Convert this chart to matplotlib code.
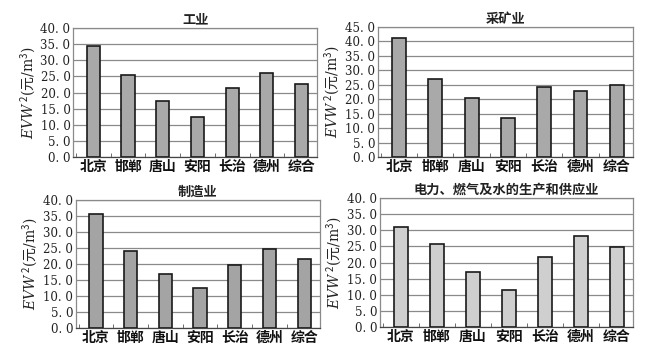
import matplotlib.pyplot as plt
from matplotlib.ticker import FixedLocator

plt.rcParams['font.family'] = ['DejaVu Serif', 'Noto Sans CJK SC']
plt.rcParams['mathtext.fontset'] = 'custom'
plt.rcParams['mathtext.rm'] = 'Noto Sans CJK SC'
plt.rcParams['mathtext.it'] = 'DejaVu Serif:italic'

cities = ['北京', '邯郸', '唐山', '安阳', '长治', '德州', '综合']

gongye = [34.5, 25.3, 17.4, 12.4, 21.3, 26.1, 22.8]
caikuang = [41.2, 26.9, 20.4, 13.6, 24.3, 22.7, 25.0]
zhizao = [35.6, 24.1, 16.8, 12.6, 19.6, 24.7, 21.6]
dianli = [31.1, 25.7, 17.0, 11.5, 21.8, 28.2, 24.7]

panels = [
    ('工业', gongye, 40, '#a9a9a9', [0.112, 0.551, 0.373, 0.369]),
    ('采矿业', caikuang, 45, '#a9a9a9', [0.578, 0.551, 0.390, 0.372]),
    ('制造业', zhizao, 40, '#a4a4a4', [0.116, 0.063, 0.373, 0.366]),
    ('电力、燃气及水的生产和供应业', dianli, 40, '#cfcfcf', [0.581, 0.066, 0.387, 0.368]),
]

fig = plt.figure(figsize=(6.54, 3.5), dpi=100)

for title, vals, ymax, color, rect in panels:
    ax = fig.add_axes(rect)
    x = range(len(cities))
    ax.bar(x, vals, width=0.38, color=color, edgecolor='#1a1a1a', linewidth=1.2, zorder=3)
    ax.set_ylim(0, ymax)
    ax.set_xlim(-0.58, 6.45)
    yt = list(range(0, ymax + 1, 5))
    ax.set_yticks(yt)
    ax.set_yticklabels(['%d. 0' % v for v in yt], fontsize=8.5, color='#222222')
    ax.set_xticks(list(x))
    ax.set_xticklabels(cities, family=['Noto Sans CJK SC'], fontsize=10,
                       fontweight='bold', color='#111111')
    ax.xaxis.set_minor_locator(FixedLocator([i + 0.5 for i in range(-1, 7)]))
    ax.tick_params(axis='x', which='major', length=0, pad=2)
    ax.tick_params(axis='x', which='minor', length=3, direction='in', color='#555555')
    ax.tick_params(axis='y', length=0, pad=2)
    ax.yaxis.grid(True, color='#8a8a8a', linewidth=0.9, zorder=0)
    for s in ax.spines.values():
        s.set_color('#8a8a8a')
        s.set_linewidth(0.9)
    ax.spines['bottom'].set_color('#444444')
    ax.set_title(title, family=['Noto Sans CJK SC'], fontsize=9.5, fontweight='bold',
                 color='#222222', pad=3)
    ax.set_ylabel(r'$EVW^{\,2}$($\mathrm{元}$/m$^3$)', fontsize=10, color='#222222', labelpad=2)

plt.savefig('out.png', dpi=100)
